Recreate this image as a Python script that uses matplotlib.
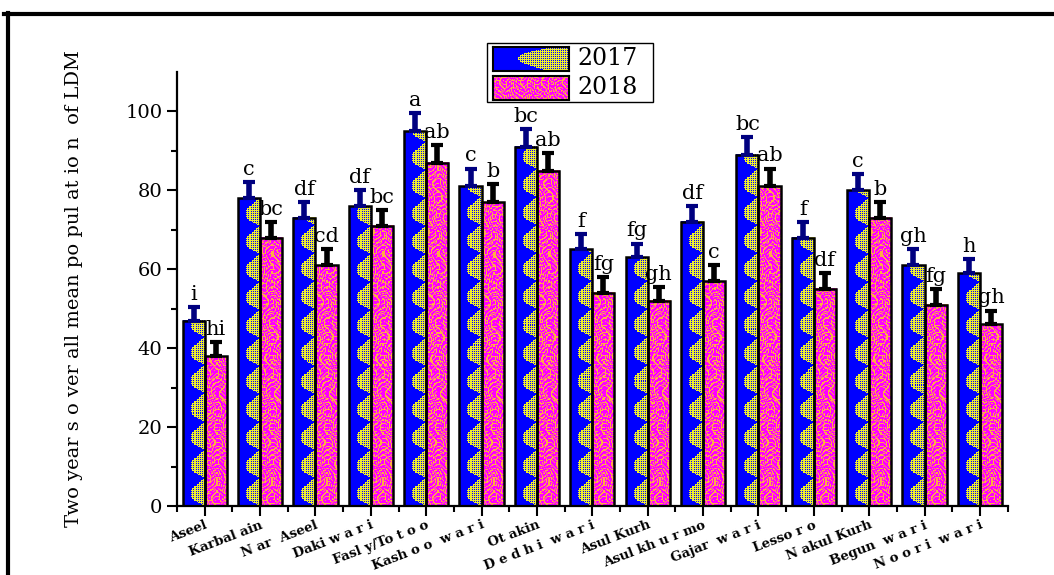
import numpy as np
import matplotlib
matplotlib.use("Agg")
from matplotlib import pyplot as plt
from matplotlib.lines import Line2D
from matplotlib.patches import Rectangle
from matplotlib.transforms import ScaledTranslation

plt.rcParams['font.family'] = ['DejaVu Serif']

# data
varieties = ['Aseel', 'Karbal ain', 'N ar  Aseel', 'Daki w a r i', 'Fasl y/To t o o',
             'Kash o o  w a r i', 'Ot akin', 'D e d h i  w a r i', 'Asul Kurh',
             'Asul kh u r mo', 'Gajar  w a r i', 'Lesso r o', 'N akul Kurh',
             'Begun  w a r i', 'N o o r i  w a r i']
pop_2017 = [47, 78, 73, 76, 95, 81, 91, 65, 63, 72, 89, 68, 80, 61, 59]
pop_2018 = [38, 68, 61, 71, 87, 77, 85, 54, 52, 57, 81, 55, 73, 51, 46]
err_2017 = [3.5, 4, 4, 4, 4.5, 4.5, 4.5, 4, 3.5, 4, 4.5, 4, 4, 4, 3.5]
err_2018 = [3.5, 4, 4, 4, 4.5, 4.5, 4.5, 4, 3.5, 4, 4.5, 4, 4, 4, 3.5]
letters_2017 = ['i', 'c', 'df', 'df', 'a', 'c', 'bc', 'f', 'fg', 'df', 'bc', 'f', 'c', 'gh', 'h']
letters_2018 = ['hi', 'bc', 'cd', 'bc', 'ab', 'b', 'ab', 'fg', 'gh', 'c', 'ab', 'df', 'b', 'fg', 'gh']

BLUE = np.array([0, 0, 255]) / 255
YELLOW = np.array([235, 235, 50]) / 255
MAGENTA = np.array([255, 0, 255]) / 255
ORANGE = np.array([255, 170, 70]) / 255


def wave_texture(h, w):
    # blue fill with dotted yellow flames reaching in from the right
    r = np.arange(h)[:, None]
    c = np.arange(w)[None, :]
    ph = (r % 28) / 28.0
    tongue = np.sin(np.pi * ph ** 0.8)
    edge = 0.92 - 0.6 * tongue
    yellow = (c / w) > edge
    dots = ((r + c) % 2 == 0) & (r % 2 == 0)
    img = np.empty((h, w, 3))
    img[:] = BLUE
    img[yellow & ~dots] = YELLOW
    return img


def swirl_texture(h, w):
    # magenta fill with fine curly orange lines
    y = np.arange(h)[:, None].astype(float)
    x = np.arange(w)[None, :].astype(float)
    f1 = np.sin(x * 0.9 + 3.0 * np.sin(y * 0.18) + 2.0 * np.sin(x * 0.3 + y * 0.1))
    f2 = np.sin(y * 0.8 + 2.0 * np.sin(x * 0.4) + 1.5 * np.sin(y * 0.07))
    lines = (np.abs(f1) < 0.36) | (np.abs(f2) < 0.3)
    img = np.empty((h, w, 3))
    img[:] = MAGENTA
    img[lines] = ORANGE
    return img


fig = plt.figure(figsize=(10.54, 5.75), dpi=100)
ax = fig.add_axes([0.168, 0.12, 0.788, 0.755])

x = np.arange(len(varieties))
width = 0.4
ppu = 3.95  # pixels per y unit
bar_px = 22

for xi, v in zip(x, pop_2017):
    img = wave_texture(int(v * ppu), bar_px)
    ax.imshow(img, extent=[xi - width, xi, 0, v], origin='lower', aspect='auto',
              interpolation='nearest', zorder=2)
for xi, v in zip(x, pop_2018):
    img = swirl_texture(int(v * ppu), bar_px)
    ax.imshow(img, extent=[xi, xi + width, 0, v], origin='lower', aspect='auto',
              interpolation='nearest', zorder=2)

ax.bar(x - width / 2, pop_2017, width, fill=False, edgecolor='black', linewidth=1.8, zorder=3)
ax.bar(x + width / 2, pop_2018, width, fill=False, edgecolor='black', linewidth=1.8, zorder=3)

ax.errorbar(x - width / 2, pop_2017, yerr=[np.zeros(len(x)), err_2017], fmt='none',
            ecolor='#000080', elinewidth=4, capsize=4.5, capthick=3, zorder=4)
ax.errorbar(x + width / 2, pop_2018, yerr=[np.zeros(len(x)), err_2018], fmt='none',
            ecolor='black', elinewidth=4, capsize=4.5, capthick=3, zorder=4)

for xi, v, e, t in zip(x, pop_2017, err_2017, letters_2017):
    ax.text(xi - width / 2, v + e + 0.8, t, ha='center', va='bottom', fontsize=15)
for xi, v, e, t in zip(x, pop_2018, err_2018, letters_2018):
    ax.text(xi + width / 2, v + e + 0.8, t, ha='center', va='bottom', fontsize=15)

ax.set_xlim(-0.5, 14.5)
ax.set_ylim(0, 110)
ax.set_yticks(np.arange(0, 101, 20))
ax.set_yticks(np.arange(10, 110, 20), minor=True)
ax.set_xticks(x)
ax.set_xticks(np.arange(-0.5, 15, 1), minor=True)
ax.set_xticklabels(varieties, rotation=21, ha='right', rotation_mode='anchor',
                   fontsize=9.5, fontweight='bold')
shift = ScaledTranslation(0.19, 0.03, fig.dpi_scale_trans)
for lab in ax.get_xticklabels():
    lab.set_transform(lab.get_transform() + shift)
ax.tick_params(axis='y', labelsize=14, direction='out', length=7, width=1.5)
ax.tick_params(axis='y', which='minor', direction='out', length=4, width=1.5)
ax.tick_params(axis='x', which='major', direction='out', length=7, width=1.5, pad=2)
ax.tick_params(axis='x', which='minor', direction='out', length=4, width=1.5)
for s in ['top', 'right']:
    ax.spines[s].set_visible(False)
for s in ['left', 'bottom']:
    ax.spines[s].set_linewidth(1.6)

ax.set_ylabel('Two year s o ver all mean po pul at io n  of LDM', fontsize=14)
ax.yaxis.set_label_coords(-0.113, 0.5)

# legend drawn by hand so the swatches carry the bar textures
fig.add_artist(Rectangle((0.462, 0.8226), 0.1575, 0.1024, transform=fig.transFigure,
                         fill=False, edgecolor='black', linewidth=1))
for i, (tex, lab) in enumerate([(wave_texture, '2017'), (swirl_texture, '2018')]):
    y0 = 0.877 - i * 0.0505
    sw = fig.add_axes([0.4675, y0, 0.072, 0.042])
    sw.imshow(tex(25, 76), aspect='auto', interpolation='nearest')
    sw.set_xticks([])
    sw.set_yticks([])
    for s in sw.spines.values():
        s.set_linewidth(1.5)
    fig.text(0.548, y0 + 0.021, lab, fontsize=17, va='center', ha='left')

# outer frame
fig.add_artist(Line2D([0.004, 1.0], [0.976, 0.976], transform=fig.transFigure,
                      color='black', linewidth=3))
fig.add_artist(Line2D([0.008, 0.008], [0.0, 0.978], transform=fig.transFigure,
                      color='black', linewidth=3))

fig.savefig('out.png', dpi=100)
